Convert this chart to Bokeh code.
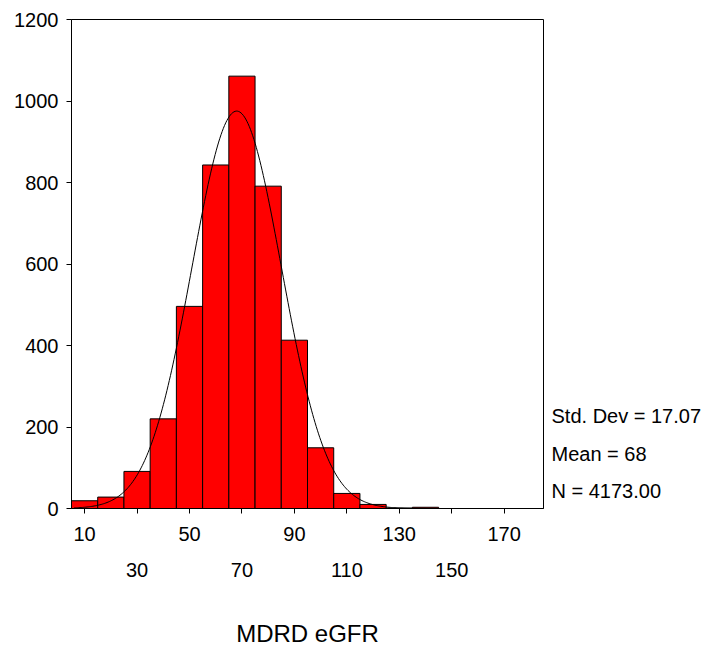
import numpy as np
from bokeh.plotting import figure
from bokeh.models import LinearAxis, FixedTicker, Range1d
from bokeh.embed import file_html
from bokeh.resources import INLINE

# Histogram data (bin centres, counts)
bin_centers = [10, 20, 30, 40, 50, 60, 70, 80, 90, 100, 110, 120, 130, 140, 150, 160, 170, 180]
counts = [19, 28, 91, 220, 496, 843, 1061, 791, 413, 149, 37, 10, 1, 3, 0, 0, 0, 0]
bin_width = 10

# Stats shown on the chart
std_dev = 17.07
mean = 68
n_total = 4173.00
stats_lines = ["Std. Dev = 17.07", "Mean = 68", "N = 4173.00"]
stats_y = [226, 133, 42]

x_ticks_top = [10, 50, 90, 130, 170]
x_ticks_bottom = [30, 70, 110, 150]
y_ticks = [0, 200, 400, 600, 800, 1000, 1200]

FONT = "Liberation Sans"

p = figure(width=711, height=649, output_backend="svg", toolbar_location=None,
           x_range=Range1d(5, 185), y_range=Range1d(0, 1200),
           min_border_left=71, min_border_right=168, min_border_top=19, min_border_bottom=140,
           x_axis_type=None, y_axis_type=None)
p.grid.visible = False
p.outline_line_color = "black"
p.outline_line_width = 1
p.background_fill_color = "white"
p.border_fill_color = "white"

left = [c - bin_width / 2 for c in bin_centers]
right = [c + bin_width / 2 for c in bin_centers]
p.quad(left=left, right=right, top=counts, bottom=0,
       fill_color="#FF0000", line_color="black", line_width=1)

# Fitted normal curve from the displayed statistics
xs = np.linspace(6, 140, 300)
ys = n_total * bin_width / (std_dev * np.sqrt(2 * np.pi)) * np.exp(-0.5 * ((xs - mean) / std_dev) ** 2)
p.line(xs, ys, line_color="black", line_width=1)

# Y axis
yax = LinearAxis(ticker=FixedTicker(ticks=y_ticks))
yax.axis_line_color = "black"
yax.major_tick_out = 5
yax.major_tick_in = 0
yax.minor_tick_line_color = None
yax.major_label_text_font = FONT
yax.major_label_text_font_size = "20px"
yax.major_label_text_color = "black"
yax.major_label_standoff = 8
p.add_layout(yax, "left")

# X axis, first row of labels
all_ticks = sorted(x_ticks_top + x_ticks_bottom)
xax = LinearAxis(ticker=FixedTicker(ticks=all_ticks))
xax.major_label_overrides = {t: (str(t) if t in x_ticks_top else " ") for t in all_ticks}
xax.axis_line_color = "black"
xax.major_tick_out = 5
xax.major_tick_in = 0
xax.minor_tick_line_color = None
xax.major_label_text_font = FONT
xax.major_label_text_font_size = "20px"
xax.major_label_text_color = "black"
xax.major_label_standoff = 9
p.add_layout(xax, "below")

# X axis, second (staggered) row of labels
xax2 = LinearAxis(ticker=FixedTicker(ticks=x_ticks_bottom))
xax2.axis_line_color = None
xax2.major_tick_line_color = None
xax2.major_tick_out = 0
xax2.major_tick_in = 0
xax2.minor_tick_line_color = None
xax2.major_label_text_font = FONT
xax2.major_label_text_font_size = "20px"
xax2.major_label_text_color = "black"
xax2.major_label_standoff = 15
xax2.axis_label = "MDRD eGFR"
xax2.axis_label_text_font = FONT
xax2.axis_label_text_font_size = "24px"
xax2.axis_label_text_font_style = "normal"
xax2.axis_label_text_color = "black"
xax2.axis_label_standoff = 40
p.add_layout(xax2, "below")

# Statistics block on the right, drawn as axis labels
sax = LinearAxis(ticker=FixedTicker(ticks=stats_y))
sax.major_label_overrides = {t: s for t, s in zip(stats_y, stats_lines)}
sax.axis_line_color = None
sax.major_tick_line_color = None
sax.major_tick_out = 0
sax.major_tick_in = 0
sax.minor_tick_line_color = None
sax.major_label_text_font = FONT
sax.major_label_text_font_size = "20px"
sax.major_label_text_color = "black"
sax.major_label_standoff = 8
p.add_layout(sax, "right")

open("out.html", "w").write(file_html(p, INLINE))
